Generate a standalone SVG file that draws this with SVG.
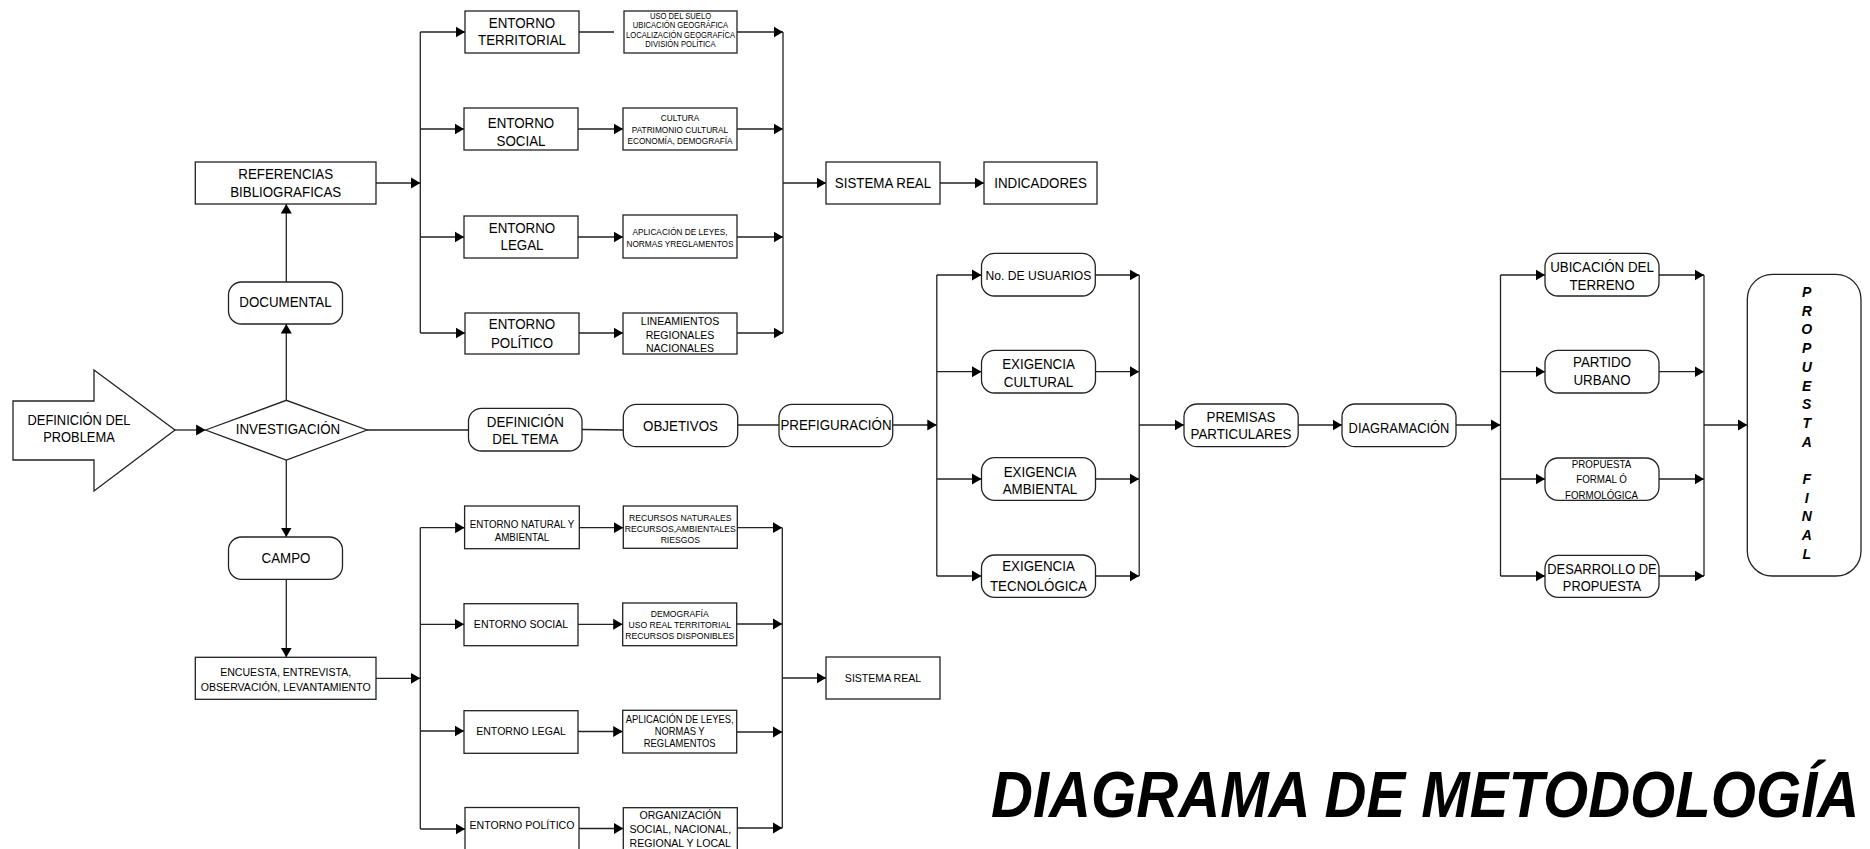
<svg xmlns="http://www.w3.org/2000/svg" width="1870" height="849" viewBox="0 0 1870 849">
<defs>
<marker id="ah" markerUnits="userSpaceOnUse" markerWidth="10" markerHeight="12" refX="9.5" refY="6" orient="auto">
<path d="M0,0.5 L9.5,6 L0,11.5 z" fill="#000"/>
</marker>
<style>
.c line, .c polyline { stroke:#222; stroke-width:1.3; fill:none; }
.a { marker-end:url(#ah); }
.b { fill:#fff; stroke:#222; stroke-width:1.3; }
text { font-family:"Liberation Sans", Arial, sans-serif; fill:#000; text-anchor:middle; }
.f145 { font-size:14.5px; }
.f14 { font-size:14px; }
.f13 { font-size:13.2px; }
.f115 { font-size:11.5px; }
.f106 { font-size:10.6px; }
.f10 { font-size:10.2px; }
.f94 { font-size:9.4px; }
.f9 { font-size:9px; }
.f83 { font-size:8.3px; }
.pf { font-size:14px; font-weight:bold; font-style:italic; }
.title { font-size:65px; font-weight:bold; font-style:italic; text-anchor:start; }
</style>
</defs>
<rect width="1870" height="849" fill="#fff"/>

<g id="connectors" class="c">
<line class="a" x1="175" y1="430" x2="205.6" y2="430"/>
<line class="a" x1="286.3" y1="400.3" x2="286.3" y2="324"/>
<line class="a" x1="286.3" y1="282" x2="286.3" y2="204"/>
<line class="a" x1="286.3" y1="460" x2="286.3" y2="537"/>
<line class="a" x1="286.3" y1="579.3" x2="286.3" y2="657.3"/>
<line class="a" x1="376" y1="183" x2="420.3" y2="183"/>
<line x1="420.3" y1="32" x2="420.3" y2="333"/>
<line class="a" x1="420.3" y1="32" x2="465" y2="32"/>
<line class="a" x1="420.3" y1="129" x2="464" y2="129"/>
<line class="a" x1="420.3" y1="237" x2="464" y2="237"/>
<line class="a" x1="420.3" y1="333" x2="465" y2="333"/>
<line x1="579" y1="32" x2="614" y2="32"/>
<line class="a" x1="578" y1="129" x2="623" y2="129"/>
<line class="a" x1="578" y1="237" x2="623" y2="237"/>
<line class="a" x1="579" y1="333" x2="623" y2="333"/>
<line class="a" x1="737" y1="32" x2="783" y2="32"/>
<line class="a" x1="737" y1="129" x2="783" y2="129"/>
<line class="a" x1="737" y1="237" x2="783" y2="237"/>
<line class="a" x1="737" y1="333" x2="783" y2="333"/>
<line x1="783" y1="32" x2="783" y2="333"/>
<line class="a" x1="783" y1="183" x2="826" y2="183"/>
<line class="a" x1="940" y1="183" x2="984" y2="183"/>
<line x1="367" y1="430" x2="468.5" y2="430"/>
<line x1="582" y1="429.5" x2="623.3" y2="430"/>
<line x1="737.7" y1="425" x2="779" y2="425"/>
<line class="a" x1="892.7" y1="425" x2="936.8" y2="425"/>
<line x1="936.8" y1="275" x2="936.8" y2="576"/>
<line class="a" x1="936.8" y1="275" x2="981.5" y2="275"/>
<line class="a" x1="936.8" y1="371.7" x2="981.5" y2="371.7"/>
<line class="a" x1="936.8" y1="479" x2="981.5" y2="479"/>
<line class="a" x1="936.8" y1="576" x2="981.5" y2="576"/>
<line class="a" x1="1095.3" y1="275" x2="1139.2" y2="275"/>
<line class="a" x1="1095.3" y1="371.7" x2="1139.2" y2="371.7"/>
<line class="a" x1="1095.3" y1="479" x2="1139.2" y2="479"/>
<line class="a" x1="1095.3" y1="576" x2="1139.2" y2="576"/>
<line x1="1139.2" y1="275" x2="1139.2" y2="576"/>
<line class="a" x1="1139.2" y1="425" x2="1184" y2="425"/>
<line class="a" x1="1298.2" y1="425" x2="1342" y2="425"/>
<line class="a" x1="1456" y1="425" x2="1500.5" y2="425"/>
<line x1="1500.5" y1="275" x2="1500.5" y2="576"/>
<line class="a" x1="1500.5" y1="275" x2="1545" y2="275"/>
<line class="a" x1="1500.5" y1="371.7" x2="1545" y2="371.7"/>
<line class="a" x1="1500.5" y1="479" x2="1545" y2="479"/>
<line class="a" x1="1500.5" y1="576" x2="1545" y2="576"/>
<line class="a" x1="1659" y1="275" x2="1704" y2="275"/>
<line class="a" x1="1659" y1="371.7" x2="1704" y2="371.7"/>
<line class="a" x1="1659" y1="479" x2="1704" y2="479"/>
<line class="a" x1="1659" y1="576" x2="1704" y2="576"/>
<line x1="1704" y1="275" x2="1704" y2="576"/>
<line class="a" x1="1704" y1="425" x2="1747.3" y2="425"/>
<line class="a" x1="376" y1="678.3" x2="420.3" y2="678.3"/>
<line x1="420.3" y1="527.7" x2="420.3" y2="829"/>
<line class="a" x1="420.3" y1="527.7" x2="464.6" y2="527.7"/>
<line class="a" x1="420.3" y1="624.3" x2="464" y2="624.3"/>
<line class="a" x1="420.3" y1="731" x2="464" y2="731"/>
<line class="a" x1="420.3" y1="829" x2="465" y2="829"/>
<line class="a" x1="579.3" y1="527.7" x2="623.3" y2="527.7"/>
<line class="a" x1="578" y1="624.3" x2="622.7" y2="624.3"/>
<line class="a" x1="578" y1="731.5" x2="622.7" y2="731.5"/>
<line class="a" x1="579" y1="828.5" x2="623.3" y2="828.5"/>
<line class="a" x1="737.3" y1="527.7" x2="782.3" y2="527.7"/>
<line class="a" x1="736.7" y1="624" x2="782.3" y2="624"/>
<line class="a" x1="736.7" y1="732" x2="782.3" y2="732"/>
<line class="a" x1="737.3" y1="828" x2="782.3" y2="828"/>
<line x1="782.3" y1="527.7" x2="782.3" y2="828"/>
<line class="a" x1="782.3" y1="678" x2="826" y2="678"/>
</g>

<g id="definicion-problema">
<polygon class="b" points="13,401 94,401 94,370 175,430 94,491 94,460 13,460"/>
<text class="f14" transform="translate(79 0) scale(0.92 1)"><tspan x="0" y="425">DEFINICIÓN DEL</tspan><tspan x="0" y="442.5">PROBLEMA</tspan></text>
</g>
<g id="investigacion">
<polygon class="b" points="205.6,430 286.3,400.3 367,430 286.3,460"/>
<text class="f145" transform="translate(288 0) scale(0.92 1)" y="434.5">INVESTIGACIÓN</text>
</g>
<g id="documental">
<rect class="b" x="228.5" y="282" width="114" height="42" rx="13"/>
<text class="f145" transform="translate(285.5 0) scale(0.92 1)" y="307">DOCUMENTAL</text>
</g>
<g id="referencias">
<rect class="b" x="195.3" y="162" width="180.7" height="42"/>
<text class="f145" transform="translate(285.7 0) scale(0.92 1)"><tspan x="0" y="179">REFERENCIAS</tspan><tspan x="0" y="197.3">BIBLIOGRAFICAS</tspan></text>
</g>
<g id="entorno-territorial">
<rect class="b" x="465" y="11" width="114" height="42"/>
<text class="f145" transform="translate(522 0) scale(0.92 1)"><tspan x="0" y="27.7">ENTORNO</tspan><tspan x="0" y="45">TERRITORIAL</tspan></text>
</g>
<g id="entorno-social">
<rect class="b" x="464" y="108" width="114" height="42"/>
<text class="f145" transform="translate(521 0) scale(0.92 1)"><tspan x="0" y="127.7">ENTORNO</tspan><tspan x="0" y="146">SOCIAL</tspan></text>
</g>
<g id="entorno-legal">
<rect class="b" x="464" y="216" width="114" height="42"/>
<text class="f145" transform="translate(522 0) scale(0.92 1)"><tspan x="0" y="233.3">ENTORNO</tspan><tspan x="0" y="250">LEGAL</tspan></text>
</g>
<g id="entorno-politico">
<rect class="b" x="465" y="313" width="114" height="41"/>
<text class="f145" transform="translate(522 0) scale(0.92 1)"><tspan x="0" y="329">ENTORNO</tspan><tspan x="0" y="348">POLÍTICO</tspan></text>
</g>
<g id="det-territorial">
<rect class="b" x="624" y="11" width="113" height="42"/>
<text class="f83" transform="translate(680.5 0) scale(0.92 1)"><tspan x="0" y="19">USO DEL SUELO</tspan><tspan x="0" y="28.5">UBICACIÓN GEOGRÁFICA</tspan><tspan x="0" y="38">LOCALIZACIÓN GEOGRAFÍCA</tspan><tspan x="0" y="47.5">DIVISIÓN POLÍTICA</tspan></text>
</g>
<g id="det-social">
<rect class="b" x="623" y="108" width="114" height="42"/>
<text class="f9" transform="translate(680 0) scale(0.92 1)"><tspan x="0" y="121.5">CULTURA</tspan><tspan x="0" y="133">PATRIMONIO CULTURAL</tspan><tspan x="0" y="144.5">ECONOMÍA,  DEMOGRAFÍA</tspan></text>
</g>
<g id="det-legal">
<rect class="b" x="623" y="215" width="114" height="43"/>
<text class="f9" transform="translate(680 0) scale(0.92 1)"><tspan x="0" y="235.5">APLICACIÓN DE LEYES,</tspan><tspan x="0" y="247">NORMAS YREGLAMENTOS</tspan></text>
</g>
<g id="det-politico">
<rect class="b" x="623" y="313" width="114" height="41"/>
<text class="f115" transform="translate(680 0) scale(0.92 1)"><tspan x="0" y="325.3">LINEAMIENTOS</tspan><tspan x="0" y="338.8">REGIONALES</tspan><tspan x="0" y="352.3">NACIONALES</tspan></text>
</g>
<g id="sistema-real-1">
<rect class="b" x="826" y="162" width="114" height="42"/>
<text class="f145" transform="translate(883 0) scale(0.92 1)" y="188.3">SISTEMA REAL</text>
</g>
<g id="indicadores">
<rect class="b" x="984" y="162" width="113" height="42"/>
<text class="f145" transform="translate(1040.5 0) scale(0.92 1)" y="188.3">INDICADORES</text>
</g>
<g id="definicion-tema">
<rect class="b" x="468.5" y="408.3" width="113.5" height="42.7" rx="13"/>
<text class="f145" transform="translate(525.3 0) scale(0.92 1)"><tspan x="0" y="426.7">DEFINICIÓN</tspan><tspan x="0" y="444">DEL TEMA</tspan></text>
</g>
<g id="objetivos">
<rect class="b" x="623.3" y="404.3" width="114.4" height="42.4" rx="13"/>
<text class="f145" transform="translate(680.5 0) scale(0.92 1)" y="431">OBJETIVOS</text>
</g>
<g id="prefiguracion">
<rect class="b" x="779" y="404.3" width="113.7" height="42.4" rx="13"/>
<text class="f145" transform="translate(836 0) scale(0.92 1)" y="430.3">PREFIGURACIÓN</text>
</g>
<g id="campo">
<rect class="b" x="228.5" y="537" width="114" height="42.3" rx="13"/>
<text class="f145" transform="translate(286 0) scale(0.92 1)" y="563.5">CAMPO</text>
</g>
<g id="encuesta">
<rect class="b" x="195.3" y="657.3" width="180.7" height="42"/>
<text class="f115" transform="translate(285.7 0) scale(0.92 1)"><tspan x="0" y="676">ENCUESTA, ENTREVISTA,</tspan><tspan x="0" y="691">OBSERVACIÓN, LEVANTAMIENTO</tspan></text>
</g>
<g id="entorno-natural">
<rect class="b" x="464.6" y="506" width="114.7" height="42.7"/>
<text class="f106" transform="translate(522 0) scale(0.92 1)"><tspan x="0" y="528.3">ENTORNO NATURAL Y</tspan><tspan x="0" y="541.3">AMBIENTAL</tspan></text>
</g>
<g id="entorno-social-2">
<rect class="b" x="464" y="603.7" width="114" height="42"/>
<text class="f115" transform="translate(521 0) scale(0.92 1)" y="628">ENTORNO SOCIAL</text>
</g>
<g id="entorno-legal-2">
<rect class="b" x="464" y="710.7" width="114" height="42.6"/>
<text class="f115" transform="translate(521 0) scale(0.92 1)" y="735.5">ENTORNO LEGAL</text>
</g>
<g id="entorno-politico-2">
<rect class="b" x="465" y="807.5" width="114" height="42.5"/>
<text class="f115" transform="translate(522 0) scale(0.92 1)" y="829.5">ENTORNO POLÍTICO</text>
</g>
<g id="det-natural">
<rect class="b" x="623.3" y="506" width="114" height="42.3"/>
<text class="f94" transform="translate(680.3 0) scale(0.92 1)"><tspan x="0" y="520.7">RECURSOS NATURALES</tspan><tspan x="0" y="532">RECURSOS,AMBIENTALES</tspan><tspan x="0" y="543.4">RIESGOS</tspan></text>
</g>
<g id="det-social-2">
<rect class="b" x="622.7" y="603" width="114" height="42.7"/>
<text class="f94" transform="translate(679.7 0) scale(0.92 1)"><tspan x="0" y="616.7">DEMOGRAFÍA</tspan><tspan x="0" y="627.9">USO REAL TERRITORIAL</tspan><tspan x="0" y="639.4">RECURSOS DISPONIBLES</tspan></text>
</g>
<g id="det-legal-2">
<rect class="b" x="622.7" y="710.3" width="114" height="42.7"/>
<text class="f10" transform="translate(679.7 0) scale(0.92 1)"><tspan x="0" y="723">APLICACIÓN DE LEYES,</tspan><tspan x="0" y="735">NORMAS Y</tspan><tspan x="0" y="747.5">REGLAMENTOS</tspan></text>
</g>
<g id="det-politico-2">
<rect class="b" x="623.3" y="807.7" width="114" height="42.3"/>
<text class="f115" transform="translate(680.3 0) scale(0.92 1)"><tspan x="0" y="819.3">ORGANIZACIÓN</tspan><tspan x="0" y="833">SOCIAL, NACIONAL,</tspan><tspan x="0" y="847">REGIONAL Y LOCAL</tspan></text>
</g>
<g id="sistema-real-2">
<rect class="b" x="826" y="657" width="114" height="42"/>
<text class="f115" transform="translate(883 0) scale(0.92 1)" y="682.3">SISTEMA REAL</text>
</g>
<g id="usuarios">
<rect class="b" x="981.5" y="253.3" width="113.8" height="42.7" rx="13"/>
<text class="f13" transform="translate(1038.4 0) scale(0.92 1)" y="279.7">No. DE USUARIOS</text>
</g>
<g id="exigencia-cultural">
<rect class="b" x="981.5" y="350.3" width="114" height="42.7" rx="13"/>
<text class="f145" transform="translate(1038.5 0) scale(0.92 1)"><tspan x="0" y="369">EXIGENCIA</tspan><tspan x="0" y="386.7">CULTURAL</tspan></text>
</g>
<g id="exigencia-ambiental">
<rect class="b" x="981.5" y="457.7" width="114" height="42.6" rx="13"/>
<text class="f145" transform="translate(1040 0) scale(0.92 1)"><tspan x="0" y="476.7">EXIGENCIA</tspan><tspan x="0" y="494.3">AMBIENTAL</tspan></text>
</g>
<g id="exigencia-tecnologica">
<rect class="b" x="981.5" y="555" width="114" height="42.3" rx="13"/>
<text class="f145" transform="translate(1038.5 0) scale(0.92 1)"><tspan x="0" y="571">EXIGENCIA</tspan><tspan x="0" y="591.5">TECNOLÓGICA</tspan></text>
</g>
<g id="premisas">
<rect class="b" x="1184" y="404" width="114.2" height="42.7" rx="13"/>
<text class="f145" transform="translate(1241 0) scale(0.92 1)"><tspan x="0" y="421.7">PREMISAS</tspan><tspan x="0" y="439">PARTICULARES</tspan></text>
</g>
<g id="diagramacion">
<rect class="b" x="1342" y="404" width="114" height="42.7" rx="13"/>
<text class="f14" transform="translate(1399 0) scale(0.92 1)" y="433.3">DIAGRAMACIÓN</text>
</g>
<g id="ubicacion">
<rect class="b" x="1545" y="253.3" width="114" height="42.7" rx="13"/>
<text class="f145" transform="translate(1602 0) scale(0.92 1)"><tspan x="0" y="272.3">UBICACIÓN DEL</tspan><tspan x="0" y="290">TERRENO</tspan></text>
</g>
<g id="partido">
<rect class="b" x="1545" y="350.3" width="114" height="42.7" rx="13"/>
<text class="f145" transform="translate(1602 0) scale(0.92 1)"><tspan x="0" y="367.3">PARTIDO</tspan><tspan x="0" y="385">URBANO</tspan></text>
</g>
<g id="propuesta-formal">
<rect class="b" x="1545" y="458" width="114" height="42.3" rx="13"/>
<text class="f106" transform="translate(1601.5 0) scale(0.92 1)"><tspan x="0" y="468">PROPUESTA</tspan><tspan x="0" y="483">FORMAL  Ó</tspan><tspan x="0" y="498.6">FORMOLÓGICA</tspan></text>
</g>
<g id="desarrollo">
<rect class="b" x="1545" y="555.3" width="114" height="42" rx="13"/>
<text class="f14" transform="translate(1602 0) scale(0.92 1)"><tspan x="0" y="574.3">DESARROLLO DE</tspan><tspan x="0" y="590.7">PROPUESTA</tspan></text>
</g>
<g id="propuesta-final">
<rect class="b" x="1747.3" y="274.3" width="113.7" height="301.7" rx="25"/>
<text class="pf"><tspan x="1806.7" y="297">P</tspan><tspan x="1806.7" y="315.7">R</tspan><tspan x="1806.7" y="334.4">O</tspan><tspan x="1806.7" y="353.1">P</tspan><tspan x="1806.7" y="371.8">U</tspan><tspan x="1806.7" y="390.5">E</tspan><tspan x="1806.7" y="409.2">S</tspan><tspan x="1806.7" y="427.9">T</tspan><tspan x="1806.7" y="446.6">A</tspan><tspan x="1806.7" y="484">F</tspan><tspan x="1806.7" y="502.7">I</tspan><tspan x="1806.7" y="521.4">N</tspan><tspan x="1806.7" y="540.1">A</tspan><tspan x="1806.7" y="558.8">L</tspan></text>
</g>
<g id="titulo">
<text class="title" transform="translate(991 0) scale(0.894 1)" x="0" y="816.7">DIAGRAMA DE METODOLOGÍA</text>
</g>
</svg>
